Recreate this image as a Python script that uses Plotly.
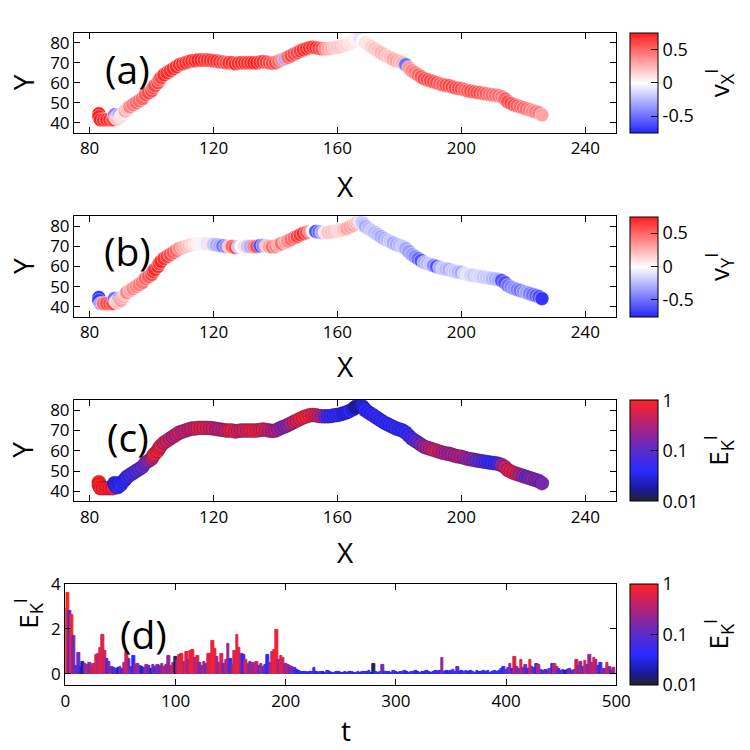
import numpy as np
import plotly.graph_objects as go

# ---------------- data ----------------
traj_x = [83, 83, 83.5, 84.5, 85.5, 86.5, 87.5, 88, 88.5, 89,
          89.5, 90, 91, 91.5, 92, 93, 94, 95, 96, 97,
          98, 99, 100, 100.5, 101, 102, 102.5, 103, 104, 105,
          106, 107, 108, 109, 110, 111, 112, 113, 114, 115,
          116, 117, 118, 119, 120, 121, 122, 123, 124, 125,
          126, 127, 128, 129, 130, 131, 132, 133, 134, 135,
          136, 137, 138, 139, 140, 141, 142, 143, 144, 145,
          146, 147, 148, 149, 150, 151, 152, 153, 154, 155,
          156, 157, 158, 159, 160, 161, 162, 163, 164, 165,
          165.8, 166.5, 167.3, 168, 168.5, 169, 170, 171, 172, 173,
          174, 175, 176, 177, 178, 179, 180, 181, 182, 183,
          184, 185, 186, 187, 188, 189, 190, 191, 192, 193,
          194, 195, 196, 197, 198, 199, 200, 201, 202, 203,
          204, 205, 206, 207, 208, 209, 210, 211, 212, 213,
          214, 215, 216, 217, 218, 219, 220, 221, 222, 223,
          224, 225, 226]
traj_y = [44.5, 43, 41.5, 41.5, 41.5, 41.5, 41.5, 44, 42.5, 42,
          44, 43, 45, 46, 47, 48, 49, 50, 51, 52,
          54, 55, 56, 57.5, 58.5, 60, 61.5, 62.5, 64, 65,
          66, 67, 68, 69, 69.5, 70, 70.5, 71, 71, 71.3,
          71.3, 71.3, 71.3, 71.2, 71, 70.8, 70.5, 70.3, 70, 70,
          70, 69.5, 69.8, 70, 70, 70, 70, 70, 70, 70.3,
          70.5, 70.3, 70, 69.8, 70, 70.7, 71.5, 72, 72.7, 73.5,
          74.3, 75, 75.8, 76.5, 77, 77.5, 77.7, 77.5, 77.2, 77,
          77, 77, 77.2, 77.5, 77.7, 78, 78.5, 79, 79.7, 80.5,
          81.5, 82.5, 82.5, 82, 81, 80, 79, 78, 77, 76,
          75, 74, 73.2, 72.5, 71.7, 71, 70.5, 70, 69, 67.5,
          66, 65, 64, 63, 62, 61.5, 61, 60.5, 60, 59.5,
          59, 58.7, 58.5, 58, 57.5, 57.2, 57, 56.5, 56, 55.8,
          55.5, 55.2, 55, 54.7, 54.5, 54.2, 54, 53.8, 53.5, 53,
          52, 50.5, 49.7, 49, 48.5, 48, 47.5, 47, 46.5, 46,
          45.5, 45, 44]
traj_vx = [0.75, 0.75, 0.75, 0.7, 0.7, 0.7, 0.6, -0.4, 0.3, 0.2,
           -0.3, 0.1, 0.1, 0.3, 0.2, 0.4, 0.45, 0.5, 0.5, 0.5,
           0.55, 0.6, 0.6, 0.6, 0.6, 0.6, 0.6, 0.6, 0.7, 0.7,
           0.7, 0.7, 0.7, 0.7, 0.7, 0.7, 0.7, 0.7, 0.7, 0.75,
           0.75, 0.7, 0.7, 0.7, 0.7, 0.7, 0.7, 0.65, 0.6, 0.7,
           0.7, 0.7, 0.7, 0.7, 0.7, 0.7, 0.7, 0.75, 0.75, 0.7,
           0.7, 0.65, 0.6, 0.6, 0.6, 0.5, 0.4, -0.3, 0.5, 0.6,
           0.6, 0.6, 0.65, 0.7, 0.7, 0.7, 0.7, 0.7, 0.65, 0.6,
           0.4, 0.3, 0.25, 0.2, 0.2, 0.2, 0.15, 0.15, 0.1, 0.1,
           0.05, 0.05, -0.1, -0.1, 0.0, 0.1, 0.1, 0.15, 0.2, 0.2,
           0.25, 0.25, 0.2, 0.2, 0.3, 0.3, 0.25, 0.25, -0.5, 0.35,
           0.4, 0.45, 0.5, 0.55, 0.6, 0.6, 0.6, 0.6, 0.6, 0.55,
           0.55, 0.6, 0.6, 0.6, 0.6, 0.6, 0.6, 0.55, 0.55, 0.6,
           0.6, 0.6, 0.6, 0.55, 0.55, 0.5, 0.5, 0.5, 0.5, 0.45,
           0.5, 0.6, 0.6, 0.6, 0.55, 0.5, 0.5, 0.5, 0.45, 0.4,
           0.45, 0.45, 0.3]
traj_vy = [-0.7, -0.7, -0.3, 0.5, 0.6, 0.6, 0.6, -0.5, 0.2, 0.2,
           -0.3, 0.3, 0.3, 0.2, 0.4, 0.3, 0.4, 0.4, 0.45, 0.45,
           0.5, 0.55, 0.6, 0.7, 0.7, 0.7, 0.7, 0.7, 0.7, 0.65,
           0.6, 0.55, 0.5, 0.4, 0.3, 0.25, 0.2, 0.15, 0.1, 0.05,
           0.05, -0.05, -0.1, 0.1, -0.2, -0.3, -0.3, -0.5, -0.4, 0.2,
           0.5, 0.6, -0.2, 0.0, 0.1, -0.2, -0.3, 0.4, 0.6, -0.6,
           -0.4, 0.2, 0.3, 0.5, 0.4, 0.3, 0.5, 0.3, 0.4, 0.5,
           0.5, 0.6, 0.65, 0.7, 0.6, 0.4, 0.0, -0.6, -0.5, -0.3,
           0.1, 0.2, 0.2, 0.2, 0.15, 0.15, 0.2, 0.3, 0.3, 0.3,
           0.25, 0.2, -0.1, -0.2, -0.25, -0.3, -0.25, -0.2, -0.25, -0.25,
           -0.3, -0.3, -0.25, -0.2, -0.3, -0.3, -0.25, -0.2, -0.3, -0.35,
           -0.35, -0.4, -0.5, -0.6, -0.3, -0.25, -0.2, -0.4, -0.6, -0.3,
           -0.2, -0.25, -0.3, -0.2, -0.2, -0.25, -0.3, -0.15, -0.1, -0.15,
           -0.2, -0.15, -0.15, -0.2, -0.2, -0.2, -0.25, -0.3, -0.3, -0.6,
           -0.6, -0.5, -0.45, -0.4, -0.45, -0.5, -0.4, -0.35, -0.45, -0.5,
           -0.55, -0.6, -0.7]
traj_ek = [1.0, 1.0, 1.0, 1.0, 0.9, 0.8, 0.7, 0.03, 0.05, 0.05,
           0.04, 0.04, 0.05, 0.04, 0.05, 0.06, 0.07, 0.08, 0.1, 0.1,
           0.12, 0.2, 0.3, 0.5, 0.6, 0.8, 0.7, 0.6, 0.4, 0.5,
           0.4, 0.3, 0.35, 0.5, 0.3, 0.5, 0.3, 0.5, 0.4, 0.6,
           0.5, 0.6, 0.5, 0.4, 0.5, 0.3, 0.4, 0.3, 0.4, 0.5,
           0.7, 0.6, 0.5, 0.4, 0.6, 0.5, 0.6, 0.7, 0.7, 0.5,
           0.6, 0.5, 0.4, 0.3, 0.3, 0.25, 0.2, 0.15, 0.2, 0.3,
           0.4, 0.5, 0.6, 0.7, 0.8, 0.7, 0.6, 0.5, 0.4, 0.3,
           0.1, 0.05, 0.05, 0.04, 0.05, 0.04, 0.03, 0.03, 0.04, 0.03,
           0.02, 0.02, 0.02, 0.03, 0.03, 0.04, 0.04, 0.04, 0.05, 0.05,
           0.04, 0.05, 0.04, 0.04, 0.05, 0.05, 0.04, 0.04, 0.05, 0.05,
           0.06, 0.08, 0.1, 0.15, 0.2, 0.3, 0.3, 0.4, 0.5, 0.4,
           0.3, 0.3, 0.2, 0.3, 0.25, 0.3, 0.3, 0.25, 0.2, 0.2,
           0.15, 0.12, 0.1, 0.08, 0.06, 0.05, 0.05, 0.05, 0.06, 0.2,
           0.4, 0.5, 0.6, 0.6, 0.4, 0.3, 0.2, 0.1, 0.15, 0.2,
           0.15, 0.15, 0.15]

t_vals = list(range(0, 500, 2))
ek_bar = [2.9, 3.6, 2.8, 2.6, 1.7, 0.35, 0.95, 0.3, 0.55, 0.45,
          0.4, 0.5, 0.35, 0.45, 0.85, 0.9, 1.15, 1.75, 1.0, 0.65,
          0.55, 0.3, 0.25, 0.2, 0.25, 0.3, 0.2, 0.5, 0.97, 0.65,
          0.3, 0.82, 0.4, 0.45, 0.35, 0.3, 0.25, 0.4, 0.35, 0.2,
          0.38, 0.3, 0.4, 0.35, 0.45, 0.3, 0.4, 0.82, 0.35, 0.5,
          0.75, 0.6, 0.85, 0.9, 0.55, 0.97, 0.6, 1.0, 1.05, 0.7,
          0.82, 0.5, 0.35, 0.55, 0.45, 0.9, 0.9, 1.45, 1.1, 0.75,
          0.5, 0.88, 0.45, 0.6, 1.35, 0.65, 0.4, 1.0, 1.75, 1.15,
          0.9, 0.85, 0.6, 0.45, 0.55, 0.5, 0.45, 0.55, 0.35, 0.45,
          0.3, 0.4, 0.83, 0.5, 0.98, 1.08, 1.95, 0.6, 0.8, 0.69,
          0.45, 0.4, 0.35, 0.3, 0.25, 0.17, 0.15, 0.1, 0.08, 0.1,
          0.06, 0.08, 0.1, 0.28, 0.08, 0.06, 0.1, 0.07, 0.05, 0.12,
          0.08, 0.06, 0.05, 0.1, 0.07, 0.05, 0.06, 0.08, 0.05, 0.07,
          0.1, 0.06, 0.05, 0.08, 0.06, 0.07, 0.1, 0.08, 0.12, 0.06,
          0.43, 0.08, 0.06, 0.1, 0.41, 0.08, 0.07, 0.1, 0.05, 0.12,
          0.08, 0.06, 0.1, 0.07, 0.12, 0.08, 0.06, 0.1, 0.08, 0.12,
          0.07, 0.06, 0.1, 0.08, 0.12, 0.1, 0.06, 0.08, 0.15, 0.1,
          0.12, 0.71, 0.1, 0.15, 0.08, 0.12, 0.18, 0.1, 0.31, 0.08,
          0.12, 0.1, 0.15, 0.08, 0.12, 0.1, 0.06, 0.12, 0.08, 0.1,
          0.15, 0.08, 0.12, 0.06, 0.1, 0.12, 0.08, 0.15, 0.2, 0.31,
          0.18, 0.25, 0.46, 0.2, 0.76, 0.3, 0.2, 0.64, 0.25, 0.38,
          0.2, 0.6, 0.3, 0.25, 0.43, 0.38, 0.16, 0.12, 0.18, 0.15,
          0.24, 0.46, 0.46, 0.31, 0.2, 0.15, 0.18, 0.12, 0.16, 0.2,
          0.12, 0.18, 0.64, 0.35, 0.53, 0.3, 0.56, 0.4, 0.83, 0.5,
          0.69, 0.64, 0.35, 0.49, 0.24, 0.2, 0.49, 0.3, 0.15, 0.25]
ek_bar_color = [1.0, 1.0, 0.07, 0.9, 0.15, 0.1, 0.12, 0.05, 0.02, 0.2,
                0.4, 0.15, 0.3, 0.5, 0.6, 0.3, 0.7, 0.6, 0.5, 0.05,
                0.15, 0.2, 0.05, 0.1, 0.02, 0.15, 0.04, 0.3, 0.5, 0.15,
                0.1, 0.04, 0.2, 0.3, 0.1, 0.02, 0.05, 0.3, 0.1, 0.02,
                0.15, 0.05, 0.3, 0.1, 0.2, 0.4, 0.2, 0.2, 0.3, 0.4,
                0.012, 0.3, 0.6, 0.7, 0.3, 0.6, 0.2, 0.7, 0.8, 0.3,
                0.5, 0.15, 0.2, 0.3, 0.1, 0.6, 0.6, 0.8, 0.7, 0.2,
                0.3, 0.6, 0.15, 0.3, 0.25, 0.05, 0.2, 0.6, 0.7, 0.7,
                0.2, 0.04, 0.6, 0.3, 0.15, 0.3, 0.2, 0.4, 0.1, 0.3,
                0.15, 0.1, 0.04, 0.3, 0.5, 0.7, 0.8, 0.3, 0.6, 0.5,
                0.2, 0.3, 0.15, 0.2, 0.1, 0.05, 0.04, 0.05, 0.03, 0.05,
                0.03, 0.04, 0.05, 0.04, 0.03, 0.04, 0.05, 0.02, 0.03, 0.04,
                0.05, 0.03, 0.04, 0.05, 0.03, 0.04, 0.03, 0.05, 0.03, 0.04,
                0.05, 0.03, 0.04, 0.05, 0.03, 0.04, 0.05, 0.03, 0.04, 0.03,
                0.012, 0.04, 0.03, 0.05, 0.15, 0.04, 0.05, 0.03, 0.04, 0.06,
                0.04, 0.03, 0.05, 0.04, 0.06, 0.03, 0.04, 0.05, 0.06, 0.04,
                0.03, 0.05, 0.04, 0.03, 0.05, 0.04, 0.03, 0.05, 0.06, 0.04,
                0.05, 0.2, 0.05, 0.04, 0.03, 0.05, 0.06, 0.04, 0.1, 0.05,
                0.04, 0.05, 0.06, 0.03, 0.04, 0.05, 0.04, 0.05, 0.03, 0.04,
                0.05, 0.03, 0.05, 0.04, 0.05, 0.06, 0.04, 0.05, 0.06, 0.04,
                0.1, 0.15, 0.2, 0.05, 0.6, 0.2, 0.1, 0.6, 0.15, 0.15,
                0.05, 0.6, 0.2, 0.1, 0.04, 0.4, 0.1, 0.05, 0.1, 0.05,
                0.2, 0.04, 0.5, 0.3, 0.1, 0.05, 0.1, 0.015, 0.05, 0.15,
                0.05, 0.1, 0.5, 0.2, 0.2, 0.1, 0.6, 0.2, 0.25, 0.3,
                0.5, 0.3, 0.1, 0.04, 0.2, 0.1, 0.6, 0.2, 0.05, 0.3]

xy_xticks = [80, 120, 160, 200, 240]
xy_yticks = [40, 50, 60, 70, 80]
t_ticks = [0, 100, 200, 300, 400, 500]
e_ticks = [0, 2, 4]
v_cticks = [-0.5, 0, 0.5]
e_cticks = [0.01, 0.1, 1]
panel_labels = ["(a)", "(b)", "(c)", "(d)"]

# ---------------- styling ----------------
W = 750.0
FONT = "Open Sans, DejaVu Sans, sans-serif"
TICK = 17
cs_v = [[0, "#2626ff"], [0.5, "#ffffff"], [1, "#ff1c1c"]]
cs_e = [[0, "#222230"], [0.12, "#1a1aa0"], [0.3, "#2a2aff"], [0.5, "#5a2ccc"],
        [0.75, "#b0227a"], [1, "#ff2222"]]

def fx(px):
    return px / W

def fy(px):
    return 1 - px / W

# panel boxes in pixel coordinates (left, right, top, bottom)
boxes = [(71, 628, 21, 123), (71, 628, 208, 310), (71, 628, 395, 498), (62, 628, 582, 685)]

def cbar(i, tickvals, ticktext):
    l, r, t, b = boxes[i]
    return dict(x=fx(642), xanchor="left", y=fy((t + b) / 2), yanchor="middle",
                len=(b - t) / W, lenmode="fraction", thickness=28, thicknessmode="pixels",
                xpad=0, ypad=0, outlinewidth=1, outlinecolor="black",
                tickvals=tickvals, ticktext=ticktext, ticks="inside", ticklen=7,
                tickcolor="black", tickfont=dict(size=TICK + 1, family=FONT, color="black"))

fig = go.Figure()

vt_text = [str(v) for v in v_cticks]
et_text = [str(v) for v in e_cticks]
e_log_ticks = list(np.log10(e_cticks))
ek_log = list(np.log10(traj_ek))
bar_log = list(np.log10(ek_bar_color))

fig.add_trace(go.Scatter(
    x=traj_x, y=traj_y, mode="markers", xaxis="x", yaxis="y", showlegend=False,
    marker=dict(size=14, color=traj_vx, colorscale=cs_v, cmin=-0.75, cmax=0.75,
                line=dict(width=0.8, color="rgba(255,255,255,0.55)"),
                colorbar=cbar(0, v_cticks, vt_text))))
fig.add_trace(go.Scatter(
    x=traj_x, y=traj_y, mode="markers", xaxis="x2", yaxis="y2", showlegend=False,
    marker=dict(size=14, color=traj_vy, colorscale=cs_v, cmin=-0.75, cmax=0.75,
                line=dict(width=0.8, color="rgba(255,255,255,0.55)"),
                colorbar=cbar(1, v_cticks, vt_text))))
fig.add_trace(go.Scatter(
    x=traj_x, y=traj_y, mode="markers", xaxis="x3", yaxis="y3", showlegend=False,
    marker=dict(size=14, color=ek_log, colorscale=cs_e, cmin=-2, cmax=0,
                line=dict(width=0.8, color="rgba(30,0,50,0.35)"),
                colorbar=cbar(2, e_log_ticks, et_text))))
fig.add_trace(go.Bar(
    x=t_vals, y=ek_bar, width=2.4, xaxis="x4", yaxis="y4", showlegend=False,
    marker=dict(color=bar_log, colorscale=cs_e, cmin=-2, cmax=0,
                line=dict(width=1, color=bar_log, colorscale=cs_e, cmin=-2, cmax=0),
                colorbar=cbar(3, e_log_ticks, et_text))))

def axis(domain, rng, tickvals, anchor):
    return dict(domain=domain, range=rng, tickvals=tickvals, ticks="inside", ticklen=6,
                tickcolor="black", showline=True, mirror="ticks", linecolor="black",
                linewidth=1.2, showgrid=False, zeroline=False, anchor=anchor,
                tickfont=dict(size=TICK, family=FONT, color="black"))

layout = dict(width=750, height=750, margin=dict(l=0, r=0, t=0, b=0),
              paper_bgcolor="white", plot_bgcolor="white", bargap=0,
              font=dict(family=FONT, color="black"))
for i in range(4):
    l, r, t, b = boxes[i]
    sx = "" if i == 0 else str(i + 1)
    if i < 3:
        layout["xaxis" + sx] = axis([fx(l), fx(r)], [75, 250], xy_xticks, "y" + sx)
        layout["yaxis" + sx] = axis([fy(b), fy(t)], [35, 85], xy_yticks, "x" + sx)
    else:
        layout["xaxis" + sx] = axis([fx(l), fx(r)], [0, 500], t_ticks, "y" + sx)
        layout["yaxis" + sx] = axis([fy(b), fy(t)], [-0.5, 4], e_ticks, "x" + sx)
fig.update_layout(**layout)

ann = []
def text(x, y, s, size, angle=0):
    ann.append(dict(x=fx(x), y=fy(y), xref="paper", yref="paper", text=s, showarrow=False,
                    textangle=angle, xanchor="center", yanchor="middle",
                    font=dict(size=size, family=FONT, color="black")))

label_pos = [(126, 57), (126, 243), (126, 432), (142, 632)]
for lab, (x, y) in zip(panel_labels, label_pos):
    text(x, y, lab, 39)
for y in [72, 259, 446]:
    text(18, y, "Y", 28, -90)
for y in [177, 360, 550]:
    text(350, y, "X", 28)
text(350, 731, "t", 28)
text(24, 612, "E<sub>K</sub><sup>I</sup>", 26, -90)
text(733, 72, "v<sub>X</sub><sup>I</sup>", 26, -90)
text(733, 259, "v<sub>Y</sub><sup>I</sup>", 26, -90)
text(733, 446, "E<sub>K</sub><sup>I</sup>", 26, -90)
text(733, 633, "E<sub>K</sub><sup>I</sup>", 26, -90)
fig.update_layout(annotations=ann)

fig.write_html("out.html")
